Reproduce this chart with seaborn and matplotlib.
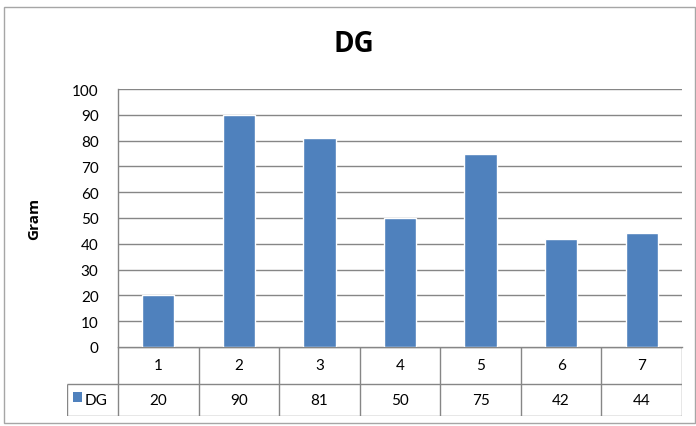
import matplotlib
matplotlib.use("Agg")
import matplotlib.pyplot as plt
import seaborn as sns
import pandas as pd
from matplotlib.patches import Rectangle

# Chart data
categories = ["1", "2", "3", "4", "5", "6", "7"]
dg_values = [20, 90, 81, 50, 75, 42, 44]
series_name = "DG"
y_ticks = list(range(0, 101, 10))

BAR_COLOR = "#4F81BD"
LINE_COLOR = "#868686"
FONT = ["Lato", "DejaVu Sans"]
BOLD_FONT = ["Open Sans", "DejaVu Sans"]

sns.set_theme(style="white")
plt.rcParams["font.family"] = FONT
plt.rcParams["text.color"] = "black"

W, H = 696, 427
fig = plt.figure(figsize=(W / 100, H / 100), dpi=100)

# Plot area geometry (pixels)
px_left, px_right, px_top, px_bottom = 118, 682, 90, 348
ax = fig.add_axes([px_left / W, 1 - px_bottom / H,
                   (px_right - px_left) / W, (px_bottom - px_top) / H])

df = pd.DataFrame({"cat": categories, "val": dg_values})
sns.barplot(data=df, x="cat", y="val", color=BAR_COLOR, width=0.4,
            saturation=1, ax=ax, zorder=3)

ax.set_xlim(-0.5, len(categories) - 0.5)
ax.set_ylim(0, 100)
ax.set_yticks(y_ticks)
ax.set_yticklabels([str(t) for t in y_ticks], fontsize=11, color="black")
ax.tick_params(axis="y", length=0, pad=14)
ax.set_xticks([])
ax.set_xlabel("")
ax.set_ylabel("Gram", fontsize=11, fontweight="bold", color="black",
              family=BOLD_FONT)
ax.yaxis.set_label_coords((41 - px_left) / (px_right - px_left), 0.5)
for t in y_ticks[1:]:
    ax.axhline(t, color=LINE_COLOR, lw=1, zorder=1)
for side in ["top", "right"]:
    ax.spines[side].set_visible(False)
ax.spines["left"].set_color(LINE_COLOR)
ax.spines["bottom"].set_color(LINE_COLOR)
ax.spines["left"].set_linewidth(1)
ax.spines["bottom"].set_linewidth(1)
ax.patch.set_alpha(0)

# Data table underneath the plot
tab_left, tab_bottom = 67, 417
head_h, row_h = 37, 32
col_w = (px_right - px_left) / len(categories)
leg_w = (px_left - tab_left) / col_w
tab = fig.add_axes([tab_left / W, 1 - tab_bottom / H,
                    (px_right - tab_left) / W, (head_h + row_h) / H])
n = len(categories)
tab.set_xlim(-0.5 - leg_w, n - 0.5)
tab.set_ylim(head_h + row_h, 0)
tab.axis("off")

lk = dict(color=LINE_COLOR, lw=1, solid_capstyle="butt")
tab.plot([-0.5, n - 0.5], [0, 0], **lk)
tab.plot([-0.5 - leg_w, n - 0.5], [head_h, head_h], **lk)
tab.plot([-0.5 - leg_w, n - 0.5], [head_h + row_h, head_h + row_h], **lk)
for i in range(n + 1):
    tab.plot([i - 0.5, i - 0.5], [0, head_h + row_h], **lk)
tab.plot([-0.5 - leg_w, -0.5 - leg_w], [head_h, head_h + row_h], **lk)

for i, (c, v) in enumerate(zip(categories, dg_values)):
    tab.text(i, head_h / 2, c, ha="center", va="center", fontsize=11)
    tab.text(i, head_h + row_h / 2, str(v), ha="center", va="center", fontsize=11)

# Legend key inside the row header
key_x = -0.5 - leg_w + 6 / col_w
tab.add_patch(Rectangle((key_x, head_h + 8), 9 / col_w, 10,
                        facecolor=BAR_COLOR, edgecolor="none", clip_on=False))
tab.text(key_x + 12 / col_w, head_h + row_h / 2, series_name,
         ha="left", va="center", fontsize=11)

# Title
fig.text(354 / W, 1 - 45 / H, "DG", ha="center", va="center",
         fontsize=20, fontweight="bold", family=BOLD_FONT, color="black")

# Chart outer border
fig.patches.append(Rectangle((4 / W, 1 - 424 / H), 691 / W, 416 / H,
                             transform=fig.transFigure, fill=False,
                             edgecolor="#A6A6A6", lw=1))

fig.savefig("out.png", dpi=100, facecolor="white")
